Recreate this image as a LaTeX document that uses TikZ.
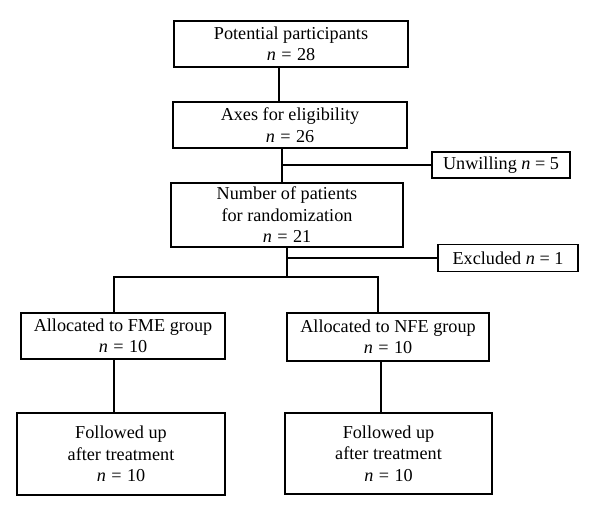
\documentclass[tikz,border=0pt]{standalone}
\usepackage{fontspec}
\setmainfont{Liberation Serif}
\newcommand{\nn}[1]{\textit{n}\hspace{0.3em}=\hspace{0.3em}#1}
\begin{document}
\begin{tikzpicture}[x=1bp,y=-1bp,
  box/.style={draw,line width=1.2bp,rectangle,inner sep=0pt,align=center,
    font=\fontsize{18.2bp}{21.5bp}\selectfont},
  conn/.style={line width=1.2bp}]
\useasboundingbox (0,0) rectangle (600,516);
\node[box,minimum width=234bp,minimum height=46bp] (b1) at (291,44) {Potential participants\\\nn{28}};
\node[box,minimum width=234bp,minimum height=46bp] (b2) at (290,125) {Axes for eligibility\\\nn{26}};
\node[box,minimum width=138bp,minimum height=26bp] (unw) at (501,165) {Unwilling \textit{n} = 5};
\node[box,minimum width=232bp,minimum height=64bp] (b3) at (287,215) {Number of patients\\for randomization\\\nn{21}};
\node[box,minimum width=140bp,minimum height=27bp] (exc) at (508,258) {Excluded \textit{n} = 1};
\node[box,minimum width=204bp,minimum height=46bp] (b4) at (123,336) {Allocated to FME group\\\nn{10}};
\node[box,minimum width=202bp,minimum height=48bp] (b5) at (388,337) {Allocated to NFE group\\\nn{10}};
\node[box,minimum width=208bp,minimum height=82bp] (b6) at (121,454) {Followed up\\after treatment\\\nn{10}};
\node[box,minimum width=207bp,minimum height=81bp] (b7) at (388.5,453.5) {Followed up\\after treatment\\\nn{10}};
\coordinate (x1) at (279,0);
\coordinate (x2) at (282,0);
\coordinate (x3) at (287,0);
\coordinate (xl) at (114,0);
\coordinate (xr) at (378,0);
\coordinate (xr2) at (381,0);
\coordinate (split) at (287,277);
\draw[conn] (b1.south -| x1) -- (b2.north -| x1);
\draw[conn] (b2.south -| x2) -- (b3.north -| x2);
\draw[conn] (unw.west -| x2) -- (unw.west);
\draw[conn] (b3.south -| x3) -- (split);
\draw[conn] (exc.west -| x3) -- (exc.west);
\draw[conn] (b4.north -| xl) |- (split) -| (b5.north -| xr);
\draw[conn] (b4.south -| xl) -- (b6.north -| xl);
\draw[conn] (b5.south -| xr2) -- (b7.north -| xr2);
\end{tikzpicture}
\end{document}
